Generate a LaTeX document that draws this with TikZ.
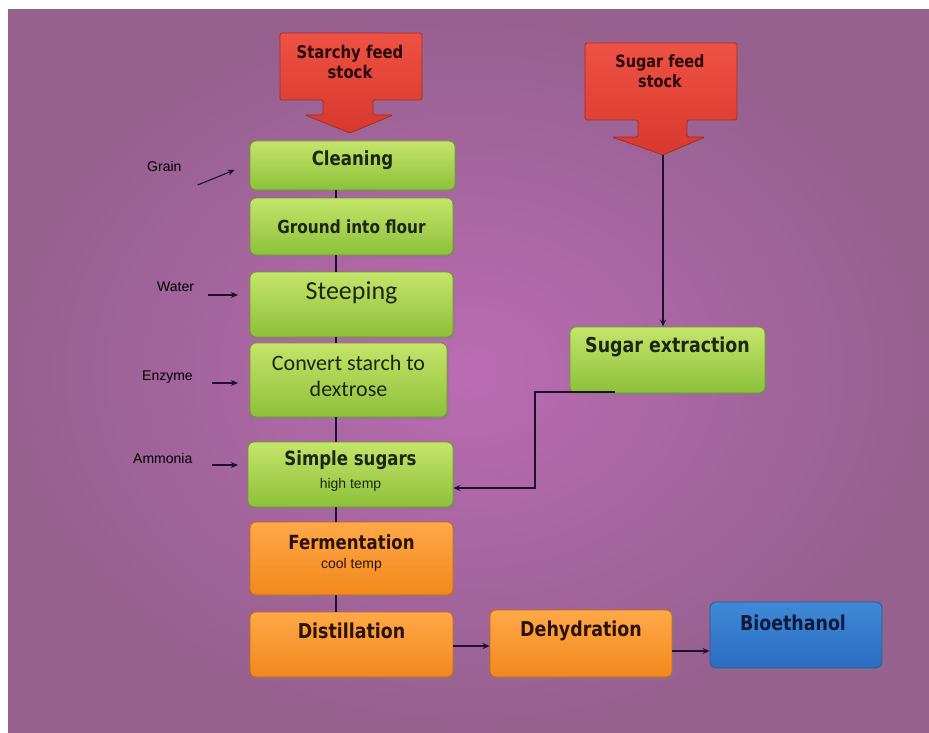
\documentclass[tikz,border=0pt]{standalone}
\usepackage{fontspec}
\setmainfont{DejaVu Sans}
\newfontfamily\tah{DejaVu Sans}[FakeStretch=0.85]
\newfontfamily\calib{Carlito}
\newfontfamily\arl{Liberation Sans}
\usetikzlibrary{arrows.meta,shadows,calc}
\definecolor{bgin}{HTML}{BA6CB2}
\definecolor{bgout}{HTML}{96608F}
\definecolor{gtop}{HTML}{C4E56A}
\definecolor{gbot}{HTML}{8CC03A}
\definecolor{gdraw}{HTML}{6E9628}
\definecolor{otop}{HTML}{FFA848}
\definecolor{obot}{HTML}{F2881C}
\definecolor{odraw}{HTML}{C06A18}
\definecolor{btop}{HTML}{3E8AD6}
\definecolor{bbot}{HTML}{2C6CC2}
\definecolor{bdraw}{HTML}{285890}
\definecolor{rtop}{HTML}{EE5244}
\definecolor{rbot}{HTML}{D8382E}
\definecolor{rdraw}{HTML}{A82A22}
\definecolor{lnc}{HTML}{1E1030}
\definecolor{gtxt}{HTML}{1C2612}
\definecolor{otxt}{HTML}{2A1206}
\definecolor{btxt}{HTML}{0E1A3C}
\definecolor{rtxt}{HTML}{2A0A0A}
\begin{document}
\begin{tikzpicture}[x=1pt,y=-1pt,
  boxbase/.style={rounded corners=6pt, line width=0.8pt, inner sep=0pt,
    drop shadow={opacity=0.35, shadow xshift=2pt, shadow yshift=-2.5pt}},
  gbox/.style={boxbase, draw=gdraw, top color=gtop, bottom color=gbot},
  obox/.style={boxbase, draw=odraw, top color=otop, bottom color=obot},
  bbox/.style={boxbase, draw=bdraw, top color=btop, bottom color=bbot},
  feedarrow/.style={draw=rdraw, line width=0.8pt, top color=rtop, bottom color=rbot, rounded corners=1.5pt,
    drop shadow={opacity=0.3, shadow xshift=2pt, shadow yshift=-2pt}},
  tb/.style={font=\tah\bfseries\fontsize{#1}{#1}\selectfont, inner sep=0pt, align=center},
  sidelab/.style={font=\arl\fontsize{14}{14}\selectfont, text=black, inner sep=0pt},
  small/.style={font=\arl\fontsize{14}{14}\selectfont, inner sep=0pt},
  conn/.style={draw=lnc, line width=1.3pt},
  arr/.style={conn, -{Stealth[length=7pt,width=6pt]}}
]
\useasboundingbox (0,0) rectangle (929,733);
\fill[white] (0,0) rectangle (929,733);
\shade[inner color=bgin, outer color=bgout] (8,10) rectangle (929,733);

% feed stock arrows
\path[feedarrow] (280,33) -- (422,33) -- (422,100) -- (373,100) -- (373,115) -- (393,115)
  -- (350,133) -- (305,115) -- (323,115) -- (323,100) -- (280,100) -- cycle;
\node[tb=17.5, text=rtxt] (starchy) at (350,62) {Starchy feed\\[3pt]stock};
\coordinate (startip) at (350,133);

\path[feedarrow] (585,43) -- (737,43) -- (737,120) -- (687,120) -- (687,137) -- (705,137)
  -- (663,155) -- (612,137) -- (638,137) -- (638,120) -- (585,120) -- cycle;
\node[tb=17, text=rtxt] (sugarfeed) at (660,71) {Sugar feed\\[3pt]stock};
\coordinate (sugtip) at (663,155);

% spine coordinate
\coordinate (spine) at (336,0);

% process boxes
\node[gbox, minimum width=205pt, minimum height=49pt] (clean) at (352.5,165.5) {};
\node[tb=19.5, text=gtxt] (cleant) at (352.5,160) {Cleaning};

\node[gbox, minimum width=203pt, minimum height=57pt] (ground) at (351.5,226.5) {};
\node[tb=18, text=gtxt] (groundt) at (351.5,227) {Ground into flour};

\node[gbox, minimum width=203pt, minimum height=65pt] (steep) at (351.5,304.5) {};
\node[font=\calib\fontsize{26}{26}\selectfont, text=gtxt, inner sep=0pt] (steept) at (351.5,293) {Steeping};

\node[gbox, minimum width=197pt, minimum height=74pt] (convert) at (348.5,380) {};
\node[font=\calib\fontsize{22}{26}\selectfont, text=gtxt, inner sep=0pt, align=center] (convertt) at (348.5,376) {Convert starch to\\dextrose};

\node[gbox, minimum width=205pt, minimum height=65pt] (simple) at (350.5,474.5) {};
\node[tb=19.5, text=gtxt] (simplet) at (350.5,460) {Simple sugars};
\node[small, text=gtxt] (simplet2) at (350.5,485) {high temp};

\node[obox, minimum width=203pt, minimum height=73pt] (ferm) at (351.5,558.5) {};
\node[tb=19.5, text=otxt] (fermt) at (351.5,542) {Fermentation};
\node[small, text=otxt] (fermt2) at (351.5,565) {cool temp};

\node[obox, minimum width=203pt, minimum height=65pt] (dist) at (351.5,644.5) {};
\node[tb=20.5, text=otxt] (distt) at (351.5,631) {Distillation};

\node[obox, minimum width=182pt, minimum height=67pt] (dehyd) at (581,643.5) {};
\node[tb=20.5, text=otxt] (dehydt) at (581,631) {Dehydration};

\node[bbox, minimum width=172pt, minimum height=66pt] (bio) at (796,635) {};
\node[tb=20.5, text=btxt] (biot) at (793,623) {Bioethanol};

\node[gbox, minimum width=195pt, minimum height=66pt] (sugext) at (667.5,360) {};
\node[tb=20.5, text=gtxt] (sugextt) at (667.5,347) {Sugar extraction};

% spine connectors
\draw[conn] (spine |- clean.south) -- (spine |- ground.north);
\draw[conn] (spine |- ground.south) -- (spine |- steep.north);
\draw[conn] (spine |- steep.south) -- (spine |- convert.north);
\draw[conn] (spine |- convert.south) -- (spine |- simple.north);
\draw[conn] (spine |- simple.south) -- (spine |- ferm.north);
\draw[conn] (spine |- ferm.south) -- (spine |- dist.north);

% sugar branch
\draw[arr] (sugtip) -- (sugtip |- sugext.north);
\coordinate (sx) at (615,392);
\coordinate (jn) at (535,488);
\draw[arr] (sx) -| (jn) -- (jn -| simple.east);

% output chain
\draw[arr] (dist.east) ++(0,1.5) -- ($(dehyd.west |- dist.east)+(0,1.5)$);
\draw[arr] ([yshift=-7.5pt]dehyd.east) -- ([yshift=-7.5pt]dehyd.east -| bio.west);

% side inputs
\node[sidelab, anchor=west] (grain) at (147,166) {Grain};
\draw[arr, line width=1.1pt] ([shift={(16pt,-19pt)}]grain.east) -- ([shift={(-15pt,-4.5pt)}]clean.west);

\node[sidelab, anchor=west] (water) at (157,287) {Water};
\draw[arr, line width=1.1pt] (water.east |- 0,295) ++(14,0) -- (238,295);

\node[sidelab, anchor=west] (enzyme) at (142,377) {Enzyme};
\draw[arr, line width=1.1pt] (212,383) -- (238,383);

\node[sidelab, anchor=west] (ammonia) at (133,458) {Ammonia};
\draw[arr, line width=1.1pt] (212,465) -- (238,465);
\end{tikzpicture}
\end{document}
